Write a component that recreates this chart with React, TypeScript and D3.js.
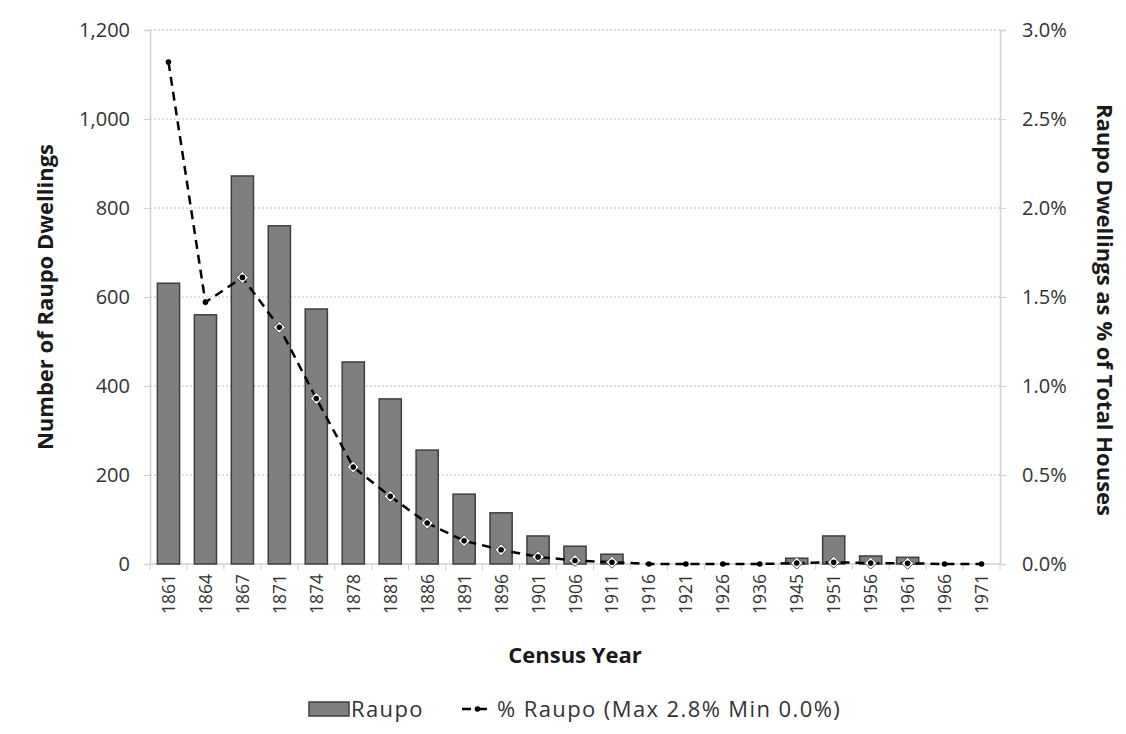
import React, { useEffect, useRef } from 'react';
import * as d3 from 'd3';

const years = ['1861', '1864', '1867', '1871', '1874', '1878', '1881', '1886', '1891', '1896', '1901', '1906', '1911', '1916', '1921', '1926', '1936', '1945', '1951', '1956', '1961', '1966', '1971'];
const raupo = [631, 560, 872, 760, 573, 454, 371, 256, 157, 115, 63, 40, 22, 0, 0, 0, 0, 13, 63, 18, 15, 0, 0];
const pctRaupo = [2.82, 1.47, 1.61, 1.33, 0.93, 0.545, 0.38, 0.23, 0.13, 0.08, 0.04, 0.02, 0.01, 0, 0, 0, 0, 0.005, 0.01, 0.005, 0.004, 0, 0];
const leftTicks = [0, 200, 400, 600, 800, 1000, 1200];
const rightTicks = [0, 0.5, 1.0, 1.5, 2.0, 2.5, 3.0];

const W = 1126;
const H = 734;
const FONT = '"Open Sans", "Liberation Sans", sans-serif';

const App: React.FC = () => {
  const svgRef = useRef<SVGSVGElement>(null);

  useEffect(() => {
    document.body.style.margin = '0';
    const svg = d3.select(svgRef.current);
    svg.selectAll('*').remove();

    const margin = { top: 30, right: 126, bottom: 170, left: 150 };
    const cw = W - margin.left - margin.right;
    const ch = H - margin.top - margin.bottom;

    const g = svg.append('g').attr('transform', `translate(${margin.left},${margin.top})`);

    const x = d3.scaleBand<string>().domain(years).range([0, cw]).paddingInner(0.4).paddingOuter(0.2);
    const yL = d3.scaleLinear().domain([0, 1200]).range([ch, 0]);
    const yR = d3.scaleLinear().domain([0, 3.0]).range([ch, 0]);

    // grid
    g.append('g')
      .selectAll('line')
      .data(leftTicks.filter(t => t > 0))
      .enter()
      .append('line')
      .attr('x1', 0)
      .attr('x2', cw)
      .attr('y1', d => yL(d))
      .attr('y2', d => yL(d))
      .attr('stroke', '#bdbdbd')
      .attr('stroke-width', 1)
      .attr('stroke-dasharray', '2,2');

    // left axis
    const left = g.append('g').call(
      d3.axisLeft(yL).tickValues(leftTicks).tickSize(6).tickPadding(14).tickFormat(d => d3.format(',')(d as number))
    );
    left.select('.domain').attr('stroke', '#d0d0d0').attr('stroke-width', 1.5);
    left.selectAll('.tick line').attr('stroke', '#d0d0d0');
    left.selectAll('.tick text').attr('fill', '#333').style('font-size', '20px').style('font-family', FONT);

    // right axis
    const right = g.append('g').attr('transform', `translate(${cw},0)`).call(
      d3.axisRight(yR).tickValues(rightTicks).tickSize(6).tickPadding(16).tickFormat(d => (d as number).toFixed(1) + '%')
    );
    right.select('.domain').attr('stroke', '#d0d0d0').attr('stroke-width', 1.5);
    right.selectAll('.tick line').attr('stroke', '#d0d0d0');
    right.selectAll('.tick text').attr('fill', '#333').style('font-size', '20px').style('font-family', FONT);

    // x axis
    const xg = g.append('g').attr('transform', `translate(0,${ch})`);
    xg.append('line').attr('x1', 0).attr('x2', cw).attr('stroke', '#d0d0d0').attr('stroke-width', 1.5);
    xg.selectAll('line.tk')
      .data(d3.range(years.length + 1))
      .enter()
      .append('line')
      .attr('class', 'tk')
      .attr('x1', i => i * (cw / years.length))
      .attr('x2', i => i * (cw / years.length))
      .attr('y1', 0)
      .attr('y2', 6)
      .attr('stroke', '#d0d0d0');
    xg.selectAll('text')
      .data(years)
      .enter()
      .append('text')
      .attr('transform', d => `translate(${(x(d) as number) + x.bandwidth() / 2 + 6.5},10) rotate(-90)`)
      .attr('text-anchor', 'end')
      .attr('fill', '#333')
      .style('font-size', '17.5px')
      .style('font-family', FONT)
      .text(d => d);

    // bars
    g.append('g')
      .selectAll('rect')
      .data(years)
      .enter()
      .append('rect')
      .attr('x', d => x(d) as number)
      .attr('width', x.bandwidth())
      .attr('y', (_, i) => yL(raupo[i]))
      .attr('height', (_, i) => ch - yL(raupo[i]))
      .attr('fill', '#7f7f7f')
      .attr('stroke', '#3f3f3f')
      .attr('stroke-width', 1.5);

    // line
    const cx = (d: string) => (x(d) as number) + x.bandwidth() / 2;
    const line = d3.line<number>()
      .x((_, i) => cx(years[i]))
      .y(d => yR(d));
    g.append('path')
      .datum(pctRaupo)
      .attr('fill', 'none')
      .attr('stroke', '#000')
      .attr('stroke-width', 2.5)
      .attr('stroke-dasharray', '9,6')
      .attr('d', line);

    const markers = g.append('g');
    years.forEach((yr, i) => {
      const px = cx(yr);
      const py = yR(pctRaupo[i]);
      const s = i === 0 || i === 1 ? 0 : 6;
      if (s > 0 && pctRaupo[i] > 0) {
        markers.append('path')
          .attr('d', `M${px},${py - s}L${px + s},${py}L${px},${py + s}L${px - s},${py}Z`)
          .attr('fill', '#fff')
          .attr('stroke', '#555')
          .attr('stroke-width', 1);
      }
      markers.append('circle').attr('cx', px).attr('cy', py).attr('r', 2.8).attr('fill', '#000');
    });

    // axis titles
    svg.append('text')
      .attr('x', margin.left + cw / 2)
      .attr('y', 663)
      .attr('text-anchor', 'middle')
      .attr('fill', '#1a1a1a')
      .style('font-size', '22px')
      .style('font-weight', 'bold')
      .style('font-family', FONT)
      .text('Census Year');

    svg.append('text')
      .attr('transform', `translate(53,297) rotate(-90)`)
      .attr('text-anchor', 'middle')
      .attr('fill', '#1a1a1a')
      .style('font-size', '22px')
      .style('font-weight', 'bold')
      .style('font-family', FONT)
      .text('Number of Raupo Dwellings');

    svg.append('text')
      .attr('transform', `translate(1097,310) rotate(90)`)
      .attr('text-anchor', 'middle')
      .attr('fill', '#1a1a1a')
      .style('font-size', '22px')
      .style('font-weight', 'bold')
      .style('font-family', FONT)
      .text('Raupo Dwellings as % of Total Houses');

    // legend
    const lg = svg.append('g').attr('transform', 'translate(0,709)');
    lg.append('rect').attr('x', 309).attr('y', -7).attr('width', 40).attr('height', 14)
      .attr('fill', '#7f7f7f').attr('stroke', '#3f3f3f').attr('stroke-width', 1.5);
    lg.append('text').attr('x', 351).attr('y', 8).attr('fill', '#333')
      .style('font-size', '22px').style('letter-spacing', '1.4px').style('font-family', FONT).text('Raupo');
    lg.append('line').attr('x1', 462).attr('x2', 493).attr('y1', 0).attr('y2', 0)
      .attr('stroke', '#000').attr('stroke-width', 2.5).attr('stroke-dasharray', '9,7');
    lg.append('circle').attr('cx', 477.5).attr('cy', 0).attr('r', 2.8).attr('fill', '#000');
    lg.append('text').attr('x', 497).attr('y', 8).attr('fill', '#333')
      .style('font-size', '22px').style('letter-spacing', '1.4px').style('font-family', FONT).text('% Raupo (Max 2.8% Min 0.0%)');
  }, []);

  return <svg ref={svgRef} width={W} height={H} style={{ display: 'block', background: '#fff' }} />;
};

export default App;
